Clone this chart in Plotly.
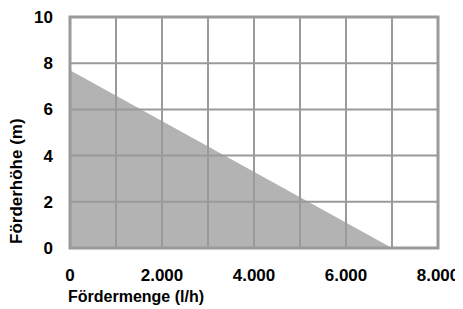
import plotly.graph_objects as go

flow = [0, 7000]          # l/h
head = [7.7, 0]           # m
x_ticks = [0, 2000, 4000, 6000, 8000]
x_ticktext = ["0", "2.000", "4.000", "6.000", "8.000"]
y_ticks = [0, 2, 4, 6, 8, 10]
x_grid = list(range(0, 8001, 1000))
y_grid = [0, 2, 4, 6, 8, 10]
x_title = "Fördermenge (l/h)"
y_title = "Förderhöhe (m)"

FONT = "Liberation Sans, Arial, sans-serif"
GRID = "#9a9a9a"

fig = go.Figure()
fig.add_trace(go.Scatter(x=flow, y=head, mode="lines", fill="tozeroy",
                         fillcolor="#b3b3b3", line=dict(width=0, color="#b3b3b3"),
                         hoverinfo="skip", showlegend=False))

shapes = []
for gx in x_grid:
    shapes.append(dict(type="line", xref="x", yref="paper", x0=gx, x1=gx, y0=0, y1=1,
                       line=dict(color=GRID, width=2), layer="above"))
for gy in y_grid:
    shapes.append(dict(type="line", xref="paper", yref="y", x0=0, x1=1, y0=gy, y1=gy,
                       line=dict(color=GRID, width=2), layer="above"))
shapes.append(dict(type="rect", xref="paper", yref="paper", x0=0, x1=1, y0=0, y1=1,
                   line=dict(color=GRID, width=3), layer="above"))

annotations = [
    dict(text="<b>" + x_title + "</b>", xref="paper", yref="paper", x=0, y=0,
         xanchor="left", yanchor="middle", xshift=-4, yshift=-48, showarrow=False,
         font=dict(family=FONT, size=16, color="black")),
    dict(text="<b>" + y_title + "</b>", xref="paper", yref="paper", x=0, y=0,
         xanchor="center", yanchor="bottom", xshift=-54, yshift=2, textangle=-90,
         showarrow=False, font=dict(family=FONT, size=17, color="black")),
]

fig.update_layout(
    width=455, height=301,
    margin=dict(l=62, r=25, t=9, b=61),
    plot_bgcolor="white", paper_bgcolor="white",
    shapes=shapes, annotations=annotations,
    font=dict(family=FONT, size=16, color="black"),
    xaxis=dict(range=[0, 8000], tickvals=x_ticks, ticktext=x_ticktext,
               showgrid=False, zeroline=False, showline=False, ticks="",
               ticklabelstandoff=15, ticklabeloverflow="allow",
               tickfont=dict(family=FONT, size=17, color="black", weight="bold"),
               automargin=False),
    yaxis=dict(range=[0, 10], tickvals=y_ticks,
               showgrid=False, zeroline=False, showline=False, ticks="",
               ticklabelstandoff=16, ticklabeloverflow="allow",
               tickfont=dict(family=FONT, size=17, color="black", weight="bold"),
               automargin=False),
)

fig.write_html("out.html")
